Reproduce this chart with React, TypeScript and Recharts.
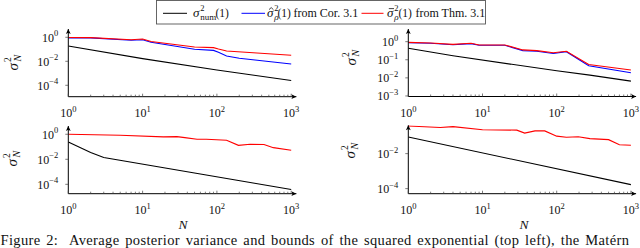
import React from 'react';
import { LineChart, Line, XAxis, YAxis } from 'recharts';

const SERIF = "'Liberation Serif', 'DejaVu Serif', serif";
const serif = { fontFamily: SERIF };

// ---------- data ----------
// top left
const tlNumN = [1, 10, 100, 1000];
const tlNumV = [0.19, 0.0166, 0.0019, 0.00025];
const tlCorN = [1, 2, 7, 10, 13, 50, 90, 105, 135, 200, 1000];
const tlCorV = [0.88, 0.89, 0.56, 0.63, 0.38, 0.1, 0.081, 0.056, 0.0275, 0.0178, 0.0059];
const tlThmN = [1, 2, 7, 10, 13, 50, 90, 105, 135, 1000];
const tlThmV = [0.95, 0.94, 0.63, 0.72, 0.44, 0.155, 0.138, 0.106, 0.072, 0.0316];
// top right
const trNumN = [1, 4, 100, 280, 1000];
const trNumV = [0.43, 0.166, 0.0245, 0.0141, 0.0066];
const trBoundN = [1, 2, 4, 7, 9, 20, 35, 54, 90, 135, 270, 1000];
const trCorV = [0.87, 0.81, 0.68, 0.78, 0.63, 0.63, 0.32, 0.295, 0.224, 0.28, 0.047, 0.019];
const trThmV = [0.91, 0.85, 0.71, 0.81, 0.66, 0.66, 0.35, 0.32, 0.245, 0.295, 0.055, 0.027];
// bottom left
const blNumN = [1, 2, 3, 1000];
const blNumV = [0.24, 0.035, 0.014, 3.8e-5];
const blThmN = [1, 5, 19, 29, 37, 54, 72, 135, 195, 280, 430, 575, 1000];
const blThmV = [1.0, 0.83, 0.62, 0.65, 0.54, 0.4, 0.4, 0.33, 0.13, 0.16, 0.15, 0.085, 0.052];
// bottom right
const brNumN = [1, 1000];
const brNumV = [0.089, 1.7e-4];
const brThmN = [1, 2.7, 4, 10, 29, 37, 51, 69, 100, 135, 195, 280, 500, 700, 1000];
const brThmV = [0.38, 0.31, 0.35, 0.234, 0.22, 0.15, 0.2, 0.2, 0.1, 0.087, 0.093, 0.072, 0.063, 0.032, 0.03];

// tick values
const xMajor = [1, 10, 100, 1000];
const xTicks: number[] = [];
[1, 10, 100].forEach((d) => {
  for (let k = 1; k <= 9; k++) xTicks.push(k * d);
});
xTicks.push(1000);
const yTicksTL = [1, 1e-2, 1e-4];
const yTicksTR = [1, 1e-1, 1e-2, 1e-3];
const yTicksBL = [1, 1e-2, 1e-4];
const yTicksBR = [1e-2, 1e-4];

const legendLabels = ['num', 'from Cor. 3.1', 'from Thm. 3.1'];
const caption =
  'Figure 2:  Average posterior variance and bounds of the squared exponential (top left), the Matérn';

const COL_NUM = '#000000';
const COL_COR = '#0000ff';
const COL_THM = '#ff0000';

const zip = (ns: number[], vs: number[]) => ns.map((n, i) => ({ n, v: vs[i] }));

const expLabel = (v: number) => {
  const e = Math.round(Math.log10(v));
  return e < 0 ? '\u2212' + -e : String(e);
};

const XTick = (props: any) => {
  const { x, y, payload } = props;
  const v = payload.value;
  const major = xMajor.includes(v);
  return (
    <g>
      <line x1={x} x2={x} y1={y} y2={y - (major ? 3 : 2)} stroke="#444" strokeWidth={0.7} />
      {major && (
        <text x={x} y={y + 20.5} textAnchor="middle" style={serif} fontSize={12} fill="#111">
          10
          <tspan dy={-5.5} fontSize={8.5}>
            {expLabel(v)}
          </tspan>
        </text>
      )}
    </g>
  );
};

const YTick = (props: any) => {
  const { x, y, payload } = props;
  return (
    <g>
      <line x1={x - 3} x2={x} y1={y} y2={y} stroke="#444" strokeWidth={0.7} />
      <text x={x - 10} y={y + 4.5} textAnchor="end" style={serif} fontSize={12} fill="#111">
        10
        <tspan dy={-5.5} fontSize={8.5}>
          {expLabel(payload.value)}
        </tspan>
      </text>
    </g>
  );
};

type Series = { data: { n: number; v: number }[]; color: string; key: string };

function Panel(p: {
  id: string;
  left: number;
  right: number;
  top: number;
  bottom: number;
  yMin: number;
  yMax: number;
  yTicks: number[];
  series: Series[];
}) {
  const YW = 60;
  const XH = 30;
  return (
    <div style={{ position: 'absolute', left: 0, top: 0 }}>
      <LineChart
        width={640}
        height={248}
        margin={{ left: p.left - YW, right: 640 - p.right, top: p.top, bottom: 248 - p.bottom - XH }}
      >
        <defs>
          <marker
            id={p.id}
            markerWidth={7}
            markerHeight={7}
            refX={5}
            refY={3}
            orient="auto-start-reverse"
            markerUnits="userSpaceOnUse"
            overflow="visible"
          >
            <path d="M0,0.6 L5,3 L0,5.4 L1.2,3 Z" fill="#000" />
          </marker>
        </defs>
        <XAxis
          type="number"
          dataKey="n"
          scale="log"
          domain={[1, Math.pow(10, 3.07)]}
          allowDataOverflow
          ticks={xTicks}
          interval={0}
          tickLine={false}
          tickSize={0}
          tickMargin={0}
          height={XH}
          tick={(tp: any) => <XTick {...tp} />}
          axisLine={{ stroke: '#000', strokeWidth: 1, markerEnd: `url(#${p.id})` }}
        />
        <YAxis
          type="number"
          scale="log"
          domain={[p.yMin, p.yMax]}
          allowDataOverflow
          ticks={p.yTicks}
          interval={0}
          tickLine={false}
          tickSize={0}
          tickMargin={0}
          width={YW}
          tick={(tp: any) => <YTick {...tp} />}
          axisLine={{ stroke: '#000', strokeWidth: 1, markerStart: `url(#${p.id})` }}
        />
        {p.series.map((s) => (
          <Line
            key={s.key}
            data={s.data}
            dataKey="v"
            type="linear"
            stroke={s.color}
            strokeWidth={1.1}
            dot={false}
            activeDot={false}
            isAnimationActive={false}
          />
        ))}
      </LineChart>
    </div>
  );
}

const YLabel = ({ cx, cy }: { cx: number; cy: number }) => (
  <g transform={`translate(${cx},${cy}) rotate(-90)`} style={serif} fill="#111">
    <text x={-9.5} y={4.5} fontSize={15} fontStyle="italic" style={serif}>
      σ
    </text>
    <text x={-1} y={-2.5} fontSize={9.5} style={serif}>
      2
    </text>
    <text x={-0.5} y={7.5} fontSize={10} fontStyle="italic" style={serif}>
      N
    </text>
  </g>
);

const SigmaSym = ({ x, accent, sub, subItalic }: { x: number; accent: 'none' | 'hat' | 'bar'; sub: string; subItalic: boolean }) => (
  <g fill="#111">
    <text x={x} y={17} fontSize={13} fontStyle="italic" style={serif}>
      σ
    </text>
    {accent === 'hat' && (
      <polyline points={`${x + 2},${9.6} ${x + 4.2},${7.6} ${x + 6.4},${9.6}`} fill="none" stroke="#111" strokeWidth={0.8} />
    )}
    {accent === 'bar' && <line x1={x + 1.8} x2={x + 7} y1={8.6} y2={8.6} stroke="#111" strokeWidth={0.8} />}
    <text x={x + 7.3} y={10.5} fontSize={8.5} style={serif}>
      2
    </text>
    <text x={x + 7.3} y={19.5} fontSize={9} fontStyle={subItalic ? 'italic' : 'normal'} style={serif}>
      {sub}
    </text>
  </g>
);

const Overlay = () => (
  <svg width={640} height={248} style={{ position: 'absolute', left: 0, top: 0, pointerEvents: 'none' }}>
    {/* legend */}
    <rect x={156.5} y={0.5} width={329} height={23.5} fill="#fff" stroke="#555" strokeWidth={0.9} />
    <line x1={163} x2={187} y1={13.3} y2={13.3} stroke={COL_NUM} strokeWidth={1} />
    <SigmaSym x={193} accent="none" sub={legendLabels[0]} subItalic={false} />
    <text x={215.5} y={17} style={serif} fontSize={11.5} fill="#111">
      (1)
    </text>
    <line x1={241.5} x2={265} y1={13.3} y2={13.3} stroke={COL_COR} strokeWidth={1} />
    <SigmaSym x={267} accent="hat" sub="ρ" subItalic={true} />
    <text x={277.5} y={17} style={serif} fontSize={11.5} fill="#111">
      (1)
    </text>
    <text x={293.5} y={17} style={serif} fontSize={12} fill="#111">
      {legendLabels[1]}
    </text>
    <line x1={361.5} x2={383.5} y1={13.3} y2={13.3} stroke={COL_THM} strokeWidth={1} />
    <SigmaSym x={387} accent="bar" sub="ρ" subItalic={true} />
    <text x={398.5} y={17} style={serif} fontSize={11.5} fill="#111">
      (1)
    </text>
    <text x={415.5} y={17} style={serif} fontSize={12} fill="#111">
      {legendLabels[2]}
    </text>

    {/* y labels */}
    <YLabel cx={13} cy={61} />
    <YLabel cx={351} cy={56} />
    <YLabel cx={12} cy={157} />
    <YLabel cx={350} cy={149} />

    {/* x labels */}
    <text x={183} y={229} textAnchor="middle" style={serif} fontSize={13.5} fontStyle="italic" fill="#111">
      N
    </text>
    <text x={524} y={229} textAnchor="middle" style={serif} fontSize={13.5} fontStyle="italic" fill="#111">
      N
    </text>
  </svg>
);

export default function App() {
  return (
    <div style={{ position: 'absolute', left: 0, top: 0, width: 640, height: 248, background: '#fff', overflow: 'hidden' }}>
      <Panel
        id="arrTL"
        left={68.3}
        right={296.4}
        top={29}
        bottom={96.7}
        yMin={Math.pow(10, -4.95)}
        yMax={Math.pow(10, 0.69)}
        yTicks={yTicksTL}
        series={[
          { key: 'num', data: zip(tlNumN, tlNumV), color: COL_NUM },
          { key: 'cor', data: zip(tlCorN, tlCorV), color: COL_COR },
          { key: 'thm', data: zip(tlThmN, tlThmV), color: COL_THM },
        ]}
      />
      <Panel
        id="arrTR"
        left={408.3}
        right={636.1}
        top={29}
        bottom={96.5}
        yMin={Math.pow(10, -3.03)}
        yMax={Math.pow(10, 0.7)}
        yTicks={yTicksTR}
        series={[
          { key: 'num', data: zip(trNumN, trNumV), color: COL_NUM },
          { key: 'cor', data: zip(trBoundN, trCorV), color: COL_COR },
          { key: 'thm', data: zip(trBoundN, trThmV), color: COL_THM },
        ]}
      />
      <Panel
        id="arrBL"
        left={68.3}
        right={296.4}
        top={126}
        bottom={193.7}
        yMin={Math.pow(10, -4.75)}
        yMax={Math.pow(10, 0.66)}
        yTicks={yTicksBL}
        series={[
          { key: 'num', data: zip(blNumN, blNumV), color: COL_NUM },
          { key: 'thm', data: zip(blThmN, blThmV), color: COL_THM },
        ]}
      />
      <Panel
        id="arrBR"
        left={408.3}
        right={636.1}
        top={125.3}
        bottom={193.7}
        yMin={Math.pow(10, -4.29)}
        yMax={Math.pow(10, -0.38)}
        yTicks={yTicksBR}
        series={[
          { key: 'num', data: zip(brNumN, brNumV), color: COL_NUM },
          { key: 'thm', data: zip(brThmN, brThmV), color: COL_THM },
        ]}
      />
      <Overlay />
      <div
        style={{
          position: 'absolute',
          left: 0.5,
          top: 234,
          height: 12,
          lineHeight: '12px',
          fontFamily: SERIF,
          fontSize: 14.5,
          letterSpacing: '0.35px',
          wordSpacing: '1.8px',
          color: '#111',
          whiteSpace: 'pre',
        }}
      >
        {caption}
      </div>
    </div>
  );
}
